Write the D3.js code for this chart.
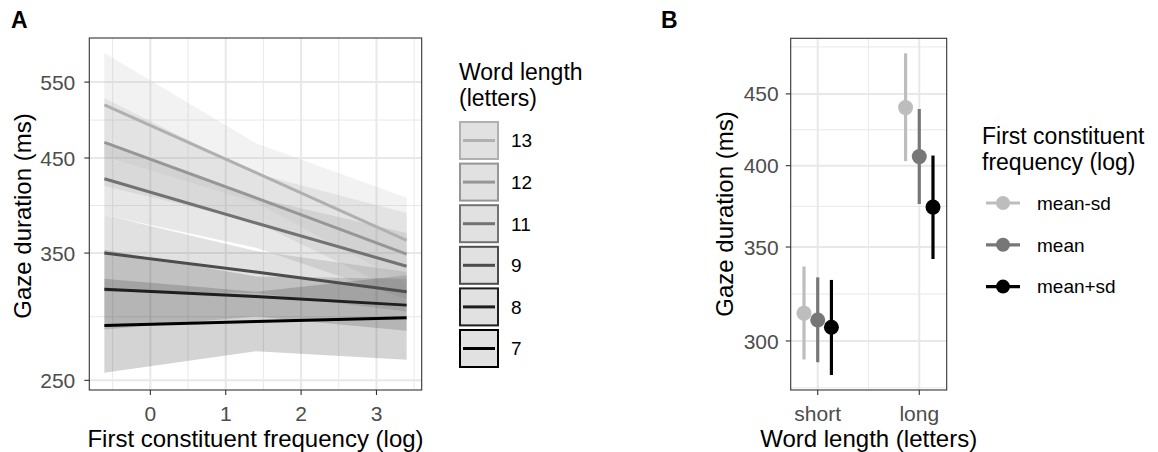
<!DOCTYPE html>
<html>
<head>
<meta charset="utf-8">
<script src="https://d3js.org/d3.v7.min.js"></script>
<style>
  body { margin: 0; background: #fff; }
  text { font-family: "Liberation Sans", Arial, Helvetica, sans-serif; }
</style>
</head>
<body>
<div id="chart"></div>
<script>
// ---- panel A data: fitted gaze duration at three frequency points ----
var freqPoints = [-0.61, 1.4, 3.4];
var wordLengths = ["13", "12", "11", "9", "8", "7"];
var gazeFit = [
  [518, 433, 362],
  [469, 405, 349],
  [426, 379, 338],
  [350, 333, 316],
  [318, 312, 305],
  [289, 292, 295]
];
var gazeLow = [
  [452, 400, 323],
  [418, 380, 313],
  [387, 355, 310],
  [316, 315, 300],
  [286, 296, 285],
  [255, 270, 264]
];
var gazeHigh = [
  [594, 468, 405],
  [527, 432, 389],
  [467, 405, 369],
  [387, 352, 333],
  [353, 329, 327],
  [327, 316, 330]
];
var xTicksA = [0, 1, 2, 3];
var yTicksA = [250, 350, 450, 550];

// ---- panel B data: point ranges per word length and frequency level ----
var lengthCats = ["short", "long"];
var freqLevels = ["mean-sd", "mean", "mean+sd"];
var pointMean = [[314, 310.5, 306.8], [440, 406, 373.7]];
var pointLow = [[291, 289.7, 283.7], [403, 375.6, 343.2]];
var pointHigh = [[339, 333, 331.6], [481, 439, 406.7]];
var yTicksB = [300, 350, 400, 450];

// colours
var lengthColors = ["#b0b0b0", "#969696", "#727272", "#4d4d4d", "#1f1f1f", "#000000"];
var levelColors = ["#bdbdbd", "#777777", "#000000"];
var gridCol = "#e8e8e8", tickTextCol = "#4d4d4d", borderCol = "#333333";

var width = 1158, height = 452;
var svg = d3.select("#chart").append("svg")
  .attr("width", width)
  .attr("height", height);

// minor breaks the way ggplot does it: midpoints in transformed space,
// with one extra step added at each end
function minorBreaks(major, dom, fwd, inv) {
  var t = major.map(fwd);
  var bd = t[1] - t[0];
  t = [t[0] - bd].concat(t, [t[t.length - 1] + bd]);
  var out = [];
  for (var i = 0; i < t.length - 1; i++) {
    var v = inv((t[i] + t[i + 1]) / 2);
    if (v > dom[0] && v < dom[1]) out.push(v);
  }
  return out;
}

function drawGrid(g, x, y, xMajor, yMajor, xMinor, yMinor) {
  var x0 = x.range()[0], x1 = x.range()[1], y0 = y.range()[0], y1 = y.range()[1];
  g.selectAll(".hmin").data(yMinor).enter().append("line")
    .attr("x1", x0).attr("x2", x1).attr("y1", y).attr("y2", y)
    .attr("stroke", gridCol).attr("stroke-width", 1);
  g.selectAll(".vmin").data(xMinor).enter().append("line")
    .attr("y1", y0).attr("y2", y1).attr("x1", x).attr("x2", x)
    .attr("stroke", gridCol).attr("stroke-width", 1);
  g.selectAll(".hmaj").data(yMajor).enter().append("line")
    .attr("x1", x0).attr("x2", x1).attr("y1", y).attr("y2", y)
    .attr("stroke", gridCol).attr("stroke-width", 2);
  g.selectAll(".vmaj").data(xMajor).enter().append("line")
    .attr("y1", y0).attr("y2", y1).attr("x1", x).attr("x2", x)
    .attr("stroke", gridCol).attr("stroke-width", 2);
}

function drawFrame(g, x, y, xTicks, yTicks, xFmt, labelGapY) {
  var x0 = x.range()[0], x1 = x.range()[1], y0 = y.range()[0], y1 = y.range()[1];
  g.append("rect")
    .attr("x", x0).attr("y", y1)
    .attr("width", x1 - x0).attr("height", y0 - y1)
    .attr("fill", "none").attr("stroke", borderCol).attr("stroke-width", 1.1);
  // y ticks
  g.selectAll(".yt").data(yTicks).enter().append("line")
    .attr("x1", x0 - 5).attr("x2", x0).attr("y1", y).attr("y2", y)
    .attr("stroke", borderCol).attr("stroke-width", 1.1);
  g.selectAll(".yl").data(yTicks).enter().append("text")
    .attr("x", x0 - labelGapY).attr("y", y)
    .attr("dy", "0.36em")
    .attr("text-anchor", "end")
    .attr("font-size", "21px")
    .attr("fill", tickTextCol)
    .text(function(d) { return d; });
  // x ticks
  g.selectAll(".xt").data(xTicks).enter().append("line")
    .attr("y1", y0).attr("y2", y0 + 5).attr("x1", x).attr("x2", x)
    .attr("stroke", borderCol).attr("stroke-width", 1.1);
  g.selectAll(".xl").data(xTicks).enter().append("text")
    .attr("x", x).attr("y", 420.5)
    .attr("text-anchor", "middle")
    .attr("font-size", "21px")
    .attr("fill", tickTextCol)
    .text(xFmt);
}

// ================= panel A =================
var xA = d3.scaleLinear().domain([-0.81, 3.60]).range([89.3, 421.7]);
var yA = d3.scaleLog().domain([243.7, 618]).range([390, 38]);
var gA = svg.append("g");

drawGrid(gA, xA, yA, xTicksA, yTicksA,
  minorBreaks(xTicksA, xA.domain(), function(v) { return v; }, function(v) { return v; }),
  minorBreaks(yTicksA, yA.domain(), Math.log10, function(v) { return Math.pow(10, v); }));

var band = d3.area()
  .x(function(d, i) { return xA(freqPoints[i]); })
  .y0(function(d) { return yA(d[0]); })
  .y1(function(d) { return yA(d[1]); });
var fitLine = d3.line()
  .x(function(d, i) { return xA(freqPoints[i]); })
  .y(function(d) { return yA(d); });

// ggplot draws the groups from 7 up to 13
var order = d3.range(wordLengths.length).reverse();
gA.selectAll(".band").data(order).enter().append("path")
  .attr("d", function(g) {
    return band(freqPoints.map(function(x, i) { return [gazeLow[g][i], gazeHigh[g][i]]; }));
  })
  .attr("fill", function(g) { return lengthColors[g]; })
  .attr("fill-opacity", 0.17)
  .attr("stroke", "none");
gA.selectAll(".fit").data(order).enter().append("path")
  .attr("d", function(g) { return fitLine(gazeFit[g]); })
  .attr("fill", "none")
  .attr("stroke", function(g) { return lengthColors[g]; })
  .attr("stroke-width", 3);

drawFrame(gA, xA, yA, xTicksA, yTicksA, function(d) { return d; }, 14);

gA.append("text")
  .attr("x", (89.3 + 421.7) / 2).attr("y", 447)
  .attr("text-anchor", "middle").attr("font-size", "24px")
  .text("First constituent frequency (log)");
gA.append("text")
  .attr("transform", "translate(31,216) rotate(-90)")
  .attr("text-anchor", "middle").attr("font-size", "24px")
  .text("Gaze duration (ms)");

// legend A
var legA = svg.append("g");
legA.append("text").attr("x", 459).attr("y", 80).attr("font-size", "23px").text("Word length");
legA.append("text").attr("x", 459).attr("y", 106).attr("font-size", "23px").text("(letters)");
var keyA = legA.selectAll(".key").data(wordLengths).enter().append("g")
  .attr("transform", function(d, i) { return "translate(460," + (122 + i * 41.6) + ")"; });
keyA.append("rect")
  .attr("width", 38).attr("height", 37)
  .attr("fill", "#e1e1e1")
  .attr("stroke", function(d, i) { return lengthColors[i]; })
  .attr("stroke-width", 2);
keyA.append("line")
  .attr("x1", 3).attr("x2", 35).attr("y1", 18.5).attr("y2", 18.5)
  .attr("stroke", function(d, i) { return lengthColors[i]; })
  .attr("stroke-width", 3);
keyA.append("text")
  .attr("x", 51).attr("y", 18.5).attr("dy", "0.36em")
  .attr("font-size", "19px")
  .text(function(d) { return d; });

// ================= panel B =================
var xB = d3.scaleLinear().domain([0.734, 2.27]).range([790.7, 946.7]);
var yB = d3.scaleLog().domain([276.8, 493]).range([390, 38.3]);
var gB = svg.append("g");
var catPos = [1, 2];
var dodge = [-0.135, 0, 0.135];

drawGrid(gB, xB, yB, catPos, yTicksB,
  minorBreaks(catPos, xB.domain(), function(v) { return v; }, function(v) { return v; }),
  minorBreaks(yTicksB, yB.domain(), Math.log10, function(v) { return Math.pow(10, v); }));

var pts = [];
lengthCats.forEach(function(c, ci) {
  freqLevels.forEach(function(f, fi) {
    pts.push({x: catPos[ci] + dodge[fi], m: pointMean[ci][fi],
              lo: pointLow[ci][fi], hi: pointHigh[ci][fi], col: levelColors[fi]});
  });
});
gB.selectAll(".err").data(pts).enter().append("line")
  .attr("x1", function(d) { return xB(d.x); })
  .attr("x2", function(d) { return xB(d.x); })
  .attr("y1", function(d) { return yB(d.lo); })
  .attr("y2", function(d) { return yB(d.hi); })
  .attr("stroke", function(d) { return d.col; })
  .attr("stroke-width", 3.2);
gB.selectAll(".pt").data(pts).enter().append("circle")
  .attr("cx", function(d) { return xB(d.x); })
  .attr("cy", function(d) { return yB(d.m); })
  .attr("r", 7.5)
  .attr("fill", function(d) { return d.col; });

drawFrame(gB, xB, yB, catPos, yTicksB, function(d, i) { return lengthCats[i]; }, 12);

gB.append("text")
  .attr("x", (790.7 + 946.7) / 2).attr("y", 447)
  .attr("text-anchor", "middle").attr("font-size", "24px")
  .text("Word length (letters)");
gB.append("text")
  .attr("transform", "translate(733,214) rotate(-90)")
  .attr("text-anchor", "middle").attr("font-size", "24px")
  .text("Gaze duration (ms)");

// legend B
var legB = svg.append("g");
legB.append("text").attr("x", 982).attr("y", 144).attr("font-size", "23px").text("First constituent");
legB.append("text").attr("x", 982).attr("y", 170).attr("font-size", "23px").text("frequency (log)");
var keyB = legB.selectAll(".key").data(freqLevels).enter().append("g")
  .attr("transform", function(d, i) { return "translate(986," + (203 + i * 41.8) + ")"; });
keyB.append("line")
  .attr("x1", 0).attr("x2", 34).attr("y1", 0).attr("y2", 0)
  .attr("stroke", function(d, i) { return levelColors[i]; })
  .attr("stroke-width", 3.2);
keyB.append("circle")
  .attr("cx", 17).attr("cy", 0).attr("r", 7)
  .attr("fill", function(d, i) { return levelColors[i]; });
keyB.append("text")
  .attr("x", 51).attr("y", 0).attr("dy", "0.36em")
  .attr("font-size", "19px")
  .text(function(d) { return d; });

// panel letters
svg.append("text").attr("x", 11).attr("y", 28).attr("font-size", "23px")
  .attr("font-weight", "bold").text("A");
svg.append("text").attr("x", 661).attr("y", 28).attr("font-size", "23px")
  .attr("font-weight", "bold").text("B");
</script>
</body>
</html>
